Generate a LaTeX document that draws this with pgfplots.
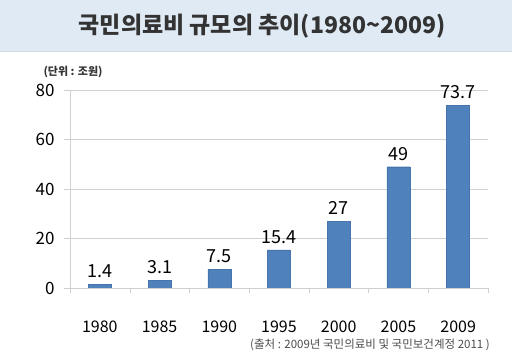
\documentclass[border=0pt]{standalone}
\usepackage{pgfplots}
\pgfplotsset{compat=1.18}
\usepackage{fontspec}
\setmainfont{Noto Sans CJK KR}
\definecolor{barblue}{HTML}{4F81BD}
\definecolor{banner}{HTML}{E0EAF4}
\definecolor{gridgray}{HTML}{D0D0D0}
\definecolor{titlegray}{HTML}{333333}
\begin{document}
\begin{tikzpicture}[x=1pt,y=1pt]
\useasboundingbox (0,0) rectangle (512,351);
\fill[white] (0,0) rectangle (512,351);
\fill[banner] (0,299) rectangle (512,351);
\draw[banner!85!gray, line width=1pt] (0,299.5) -- (512,299.5);
\node[text=titlegray, font=\fontsize{23}{27}\selectfont\bfseries] at (262,325) {국민의료비 규모의 추이(1980\textasciitilde2009)};
\node[text=titlegray, font=\fontsize{11}{13}\selectfont\bfseries, anchor=west] at (40,279) {(단위 : 조원)};
\node[text=black!70, font=\fontsize{11.5}{13}\selectfont, anchor=east, inner sep=0pt] at (490,6) {(출처 : 2009년 국민의료비 및 국민보건계정 2011 )};
\begin{axis}[
  at={(70pt,63pt)}, anchor=south west,
  scale only axis, width=418pt, height=198pt,
  xmin=-0.5, xmax=6.5, ymin=0, ymax=80,
  axis lines=left, axis line style={gridgray, -},
  xtick={0,...,6}, xticklabels={1980,1985,1990,1995,2000,2005,2009},
  major x tick style={draw=none},
  minor xtick={-0.5,0.5,...,6.5},
  minor tick length=5pt,
  minor x tick style={gridgray},
  ytick={0,20,...,80},
  ymajorgrids, grid style={gridgray, line width=0.8pt},
  major tick length=6pt,
  tick align=outside,
  y tick style={gridgray, line width=0.8pt},
  tick label style={font=\fontsize{17}{20}\selectfont},
  xticklabel style={font=\fontsize{16}{18}\selectfont, yshift=-23pt},
  yticklabel style={xshift=-6pt},
  /pgf/number format/assume math mode=true,
  ybar, bar width=23pt,
  nodes near coords,
  nodes near coords style={font=\fontsize{18}{21}\selectfont, yshift=3pt},
  point meta=explicit symbolic,
]
\addplot[fill=barblue, draw=barblue!90!black, line width=0.3pt] coordinates {
(0,1.4) [1.4]
(1,3.1) [3.1]
(2,7.5) [7.5]
(3,15.4) [15.4]
(4,27) [27]
(5,49) [49]
(6,73.7) [73.7]
};
\end{axis}
\end{tikzpicture}
\end{document}
